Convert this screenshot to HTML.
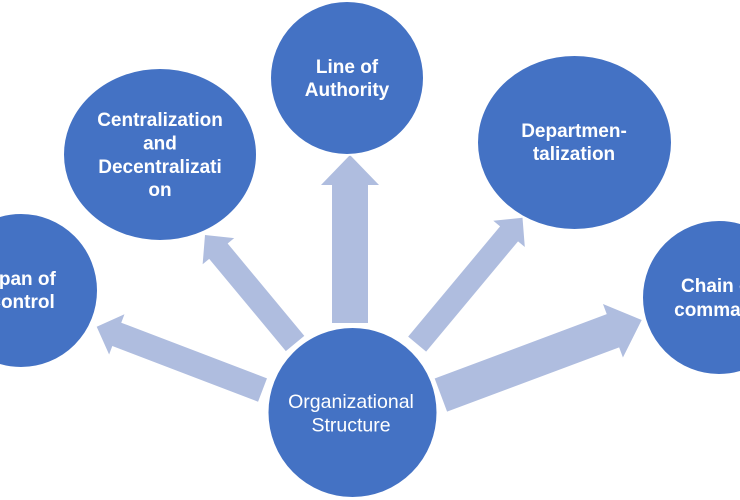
<!DOCTYPE html>
<html>
<head>
<meta charset="utf-8">
<style>
  html, body { margin: 0; padding: 0; background: #ffffff; }
  body { width: 740px; height: 500px; overflow: hidden; }
  svg { display: block; }
  .b { font-family: "Liberation Sans", sans-serif; font-weight: bold; font-size: 19px; fill: #ffffff; }
  .n { font-family: "Liberation Sans", sans-serif; font-weight: normal; font-size: 19.5px; fill: #ffffff; }
</style>
</head>
<body>
<svg width="740" height="500" viewBox="0 0 740 500" xmlns="http://www.w3.org/2000/svg">
  <!-- Arrows -->
  <g fill="#AFBDDF">
    <!-- up: Line of Authority -->
    <polygon transform="translate(350,155) rotate(-90)" points="-168,-18 -30,-18 -30,-29 0,0 -30,29 -30,18 -168,18"/>
    <!-- Centralization -->
    <polygon transform="translate(205,235) rotate(-129.7)" points="-141,-12 -21,-12 -21,-20.5 0,0 -21,20.5 -21,12 -141,12"/>
    <!-- Span of control -->
    <polygon transform="translate(96.7,326.7) rotate(-159.1)" points="-177.5,-12.5 -21.5,-12.5 -21.5,-21.5 0,0 -21.5,21.5 -21.5,12.5 -177.5,12.5"/>
    <!-- Departmentalization -->
    <polygon transform="translate(522.5,217.7) rotate(-50.2)" points="-164.6,-11.7 -21,-11.7 -21,-20.5 0,0 -21,20.5 -21,11.7 -164.6,11.7"/>
    <!-- Chain of command -->
    <polygon transform="translate(641.7,320) rotate(-20.5)" points="-214.4,-17.7 -30.7,-17.7 -30.7,-28.5 0,0 -30.7,28.5 -30.7,17.7 -214.4,17.7"/>
  </g>

  <!-- Circles -->
  <g fill="#4472C4" stroke="#ffffff" stroke-width="2">
    <ellipse cx="347" cy="78" rx="77" ry="77"/>
    <ellipse cx="160" cy="154.5" rx="97" ry="86.5"/>
    <ellipse cx="574.5" cy="142.5" rx="97.5" ry="87.5"/>
    <ellipse cx="21" cy="290.5" rx="77" ry="77.5"/>
    <ellipse cx="719" cy="297.5" rx="77" ry="77.5"/>
    <ellipse cx="352.5" cy="412.5" rx="85" ry="85.5"/>
  </g>

  <!-- Labels -->
  <g text-anchor="middle">
    <text class="b" x="347" y="73">Line of</text>
    <text class="b" x="347" y="96">Authority</text>

    <text class="b" x="160" y="126">Centralization</text>
    <text class="b" x="160" y="149.5">and</text>
    <text class="b" x="160" y="173">Decentralizati</text>
    <text class="b" x="160" y="196">on</text>

    <text class="b" x="574" y="137">Departmen-</text>
    <text class="b" x="574" y="160">talization</text>

    <text class="b" x="21" y="285">Span of</text>
    <text class="b" x="21" y="308">Control</text>

    <text class="b" x="719" y="292">Chain of</text>
    <text class="b" x="719" y="316">command</text>

    <text class="n" x="351" y="408">Organizational</text>
    <text class="n" x="351" y="431.5">Structure</text>
  </g>
</svg>
</body>
</html>
